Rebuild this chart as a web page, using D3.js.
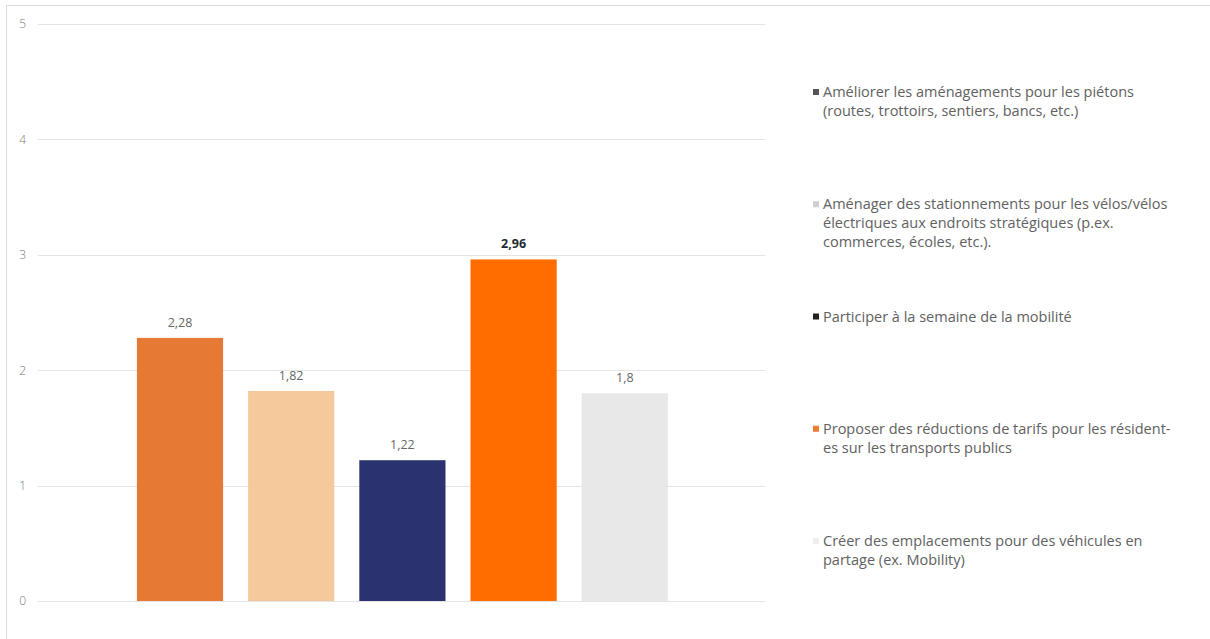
<!DOCTYPE html>
<html><head><meta charset="utf-8">
<script src="https://cdn.jsdelivr.net/npm/d3@7"></script>
<style>body{margin:0;background:#fff}svg{display:block}</style>
</head><body>
<svg id="c" width="1210" height="639"></svg>
<script>
const categories = [
  "Améliorer les aménagements pour les piétons (routes, trottoirs, sentiers, bancs, etc.)",
  "Aménager des stationnements pour les vélos/vélos électriques aux endroits stratégiques (p.ex. commerces, écoles, etc.).",
  "Participer à la semaine de la mobilité",
  "Proposer des réductions de tarifs pour les résident-es sur les transports publics",
  "Créer des emplacements pour des véhicules en partage (ex. Mobility)"
];
const values = [2.28, 1.82, 1.22, 2.96, 1.8];
const valueLabels = ["2,28", "1,82", "1,22", "2,96", "1,8"];
const barColors = ["#E67A35", "#F5C99C", "#2B3270", "#FF6C00", "#E8E8E8"];
const legendMarkerColors = ["#555555", "#cfcfcf", "#222222", "#F07A30", "#eeeeee"];
const legendLines = [
  ["Améliorer les aménagements pour les piétons", "(routes, trottoirs, sentiers, bancs, etc.)"],
  ["Aménager des stationnements pour les vélos/vélos", "électriques aux endroits stratégiques (p.ex.", "commerces, écoles, etc.)."],
  ["Participer à la semaine de la mobilité"],
  ["Proposer des réductions de tarifs pour les résident-", "es sur les transports publics"],
  ["Créer des emplacements pour des véhicules en", "partage (ex. Mobility)"]
];
const yTicks = [0, 1, 2, 3, 4, 5];

const svg = d3.select("#c");
const font = "'Open Sans', sans-serif";

svg.append("rect").attr("x", 6.5).attr("y", 5.5).attr("width", 1220).attr("height", 650)
  .attr("fill", "none").attr("stroke", "#dcdcdc");

const y = d3.scaleLinear().domain([0, 5]).range([601, 24]);
const x = d3.scaleBand().domain(d3.range(values.length)).range([124.4, 680.4])
  .paddingInner(0.225).paddingOuter(0.1125);

// grid
svg.append("g").selectAll("line").data(yTicks).join("line")
  .attr("x1", 38).attr("x2", 765)
  .attr("y1", d => Math.round(y(d)) + 0.5).attr("y2", d => Math.round(y(d)) + 0.5)
  .attr("stroke", "#e4e4e4");

// y axis labels
const yAxis = d3.axisLeft(y).tickValues(yTicks).tickSize(0).tickPadding(0).tickFormat(d3.format("d"));
const ga = svg.append("g").attr("transform", "translate(26,0)").call(yAxis);
ga.select(".domain").remove();
ga.selectAll("text").attr("font-family", font).attr("font-size", 12).attr("fill", "#7a7a7a").attr("font-weight", 300);

// bars
svg.append("g").selectAll("rect").data(values).join("rect")
  .attr("x", (d, i) => x(i)).attr("width", x.bandwidth())
  .attr("y", d => y(d)).attr("height", d => y(0) - y(d))
  .attr("fill", (d, i) => barColors[i]);

// value labels
svg.append("g").selectAll("text").data(values).join("text")
  .attr("x", (d, i) => x(i) + x.bandwidth() / 2)
  .attr("y", d => y(d) - 11)
  .attr("text-anchor", "middle")
  .attr("font-family", font)
  .attr("font-size", 12.5)
  .attr("font-weight", (d, i) => i === 3 ? 700 : 400)
  .attr("fill", (d, i) => i === 3 ? "#1e2a33" : "#666")
  .text((d, i) => valueLabels[i]);

// legend
const lg = svg.append("g");
legendLines.forEach((lines, i) => {
  const y0 = 92 + 112.25 * i;
  lg.append("rect").attr("x", 813).attr("y", y0 - 3).attr("width", 6).attr("height", 6)
    .attr("fill", legendMarkerColors[i]);
  lines.forEach((t, j) => {
    lg.append("text").attr("x", 823).attr("y", y0 + j * 18.7)
      .attr("dy", "0.35em")
      .attr("font-family", font).attr("font-size", 14.5).attr("font-weight", 400)
      .attr("fill", "#616161").text(t);
  });
});
</script>
</body></html>
